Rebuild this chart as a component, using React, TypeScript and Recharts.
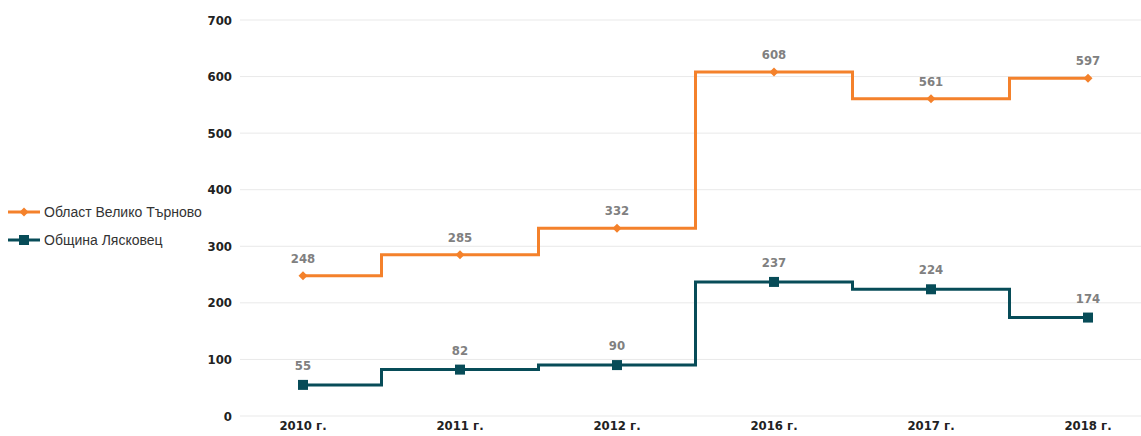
import React from 'react';
import { LineChart, Line, XAxis, YAxis, CartesianGrid, LabelList } from 'recharts';

const years = ['2010 г.', '2011 г.', '2012 г.', '2016 г.', '2017 г.', '2018 г.'];
const oblast = [248, 285, 332, 608, 561, 597];
const obshtina = [55, 82, 90, 237, 224, 174];
const yTicks = [0, 100, 200, 300, 400, 500, 600, 700];

const ORANGE = '#F4812B';
const TEAL = '#074C58';
const condensed = '"DejaVu Sans Condensed", "Liberation Sans Narrow", "Roboto", sans-serif';

const chartData = years.map((year, i) => ({
  year,
  oblast: oblast[i],
  obshtina: obshtina[i],
}));

const Diamond = (props: any) => {
  const { cx, cy } = props;
  if (cx == null || cy == null) return null;
  return <path d={`M${cx},${cy - 4.5} L${cx + 4.5},${cy} L${cx},${cy + 4.5} L${cx - 4.5},${cy} Z`} fill={ORANGE} />;
};

const Square = (props: any) => {
  const { cx, cy } = props;
  if (cx == null || cy == null) return null;
  return <rect x={cx - 5} y={cy - 5} width={10} height={10} fill={TEAL} />;
};

const labelStyle = { fill: '#808080', fontSize: 13, fontWeight: 700, fontFamily: condensed };
const tickStyle = { fill: '#222', fontSize: 13, fontWeight: 700, fontFamily: condensed };

const App: React.FC = () => {
  return (
    <div style={{ position: 'absolute', left: 0, top: 0, width: 1141, height: 436 }}>
      <LineChart width={1141} height={436} data={chartData} margin={{ top: 20, right: 0, left: 0, bottom: 0 }}>
        <CartesianGrid vertical={false} stroke="#e9e9e9" />
        <XAxis
          dataKey="year"
          height={20}
          axisLine={false}
          tickLine={false}
          tickSize={3}
          padding={{ left: 63, right: 53 }}
          tick={tickStyle}
        />
        <YAxis
          width={240}
          domain={[0, 700]}
          ticks={yTicks}
          axisLine={false}
          tickLine={false}
          tick={tickStyle}
        />
        <Line
          type="step"
          dataKey="oblast"
          stroke={ORANGE}
          strokeWidth={3}
          dot={<Diamond />}
          activeDot={false}
          isAnimationActive={false}
        >
          <LabelList dataKey="oblast" position="top" offset={13} style={labelStyle} />
        </Line>
        <Line
          type="step"
          dataKey="obshtina"
          stroke={TEAL}
          strokeWidth={3}
          dot={<Square />}
          activeDot={false}
          isAnimationActive={false}
        >
          <LabelList dataKey="obshtina" position="top" offset={15} style={labelStyle} />
        </Line>
      </LineChart>

      {/* legend on the left */}
      <div style={{ position: 'absolute', left: 8, top: 202, fontFamily: '"Liberation Sans", Arial, sans-serif', fontSize: 14, color: '#333' }}>
        <div style={{ display: 'flex', alignItems: 'center', height: 20, marginBottom: 8 }}>
          <svg width={34} height={12} style={{ marginRight: 2 }}>
            <line x1={0} y1={6} x2={32} y2={6} stroke={ORANGE} strokeWidth={3} />
            <path d="M16,1.5 L20.5,6 L16,10.5 L11.5,6 Z" fill={ORANGE} />
          </svg>
          <span>Област Велико Търново</span>
        </div>
        <div style={{ display: 'flex', alignItems: 'center', height: 20 }}>
          <svg width={34} height={12} style={{ marginRight: 2 }}>
            <line x1={0} y1={6} x2={32} y2={6} stroke={TEAL} strokeWidth={3} />
            <rect x={11} y={1} width={10} height={10} fill={TEAL} />
          </svg>
          <span>Община Лясковец</span>
        </div>
      </div>
    </div>
  );
};

export default App;
